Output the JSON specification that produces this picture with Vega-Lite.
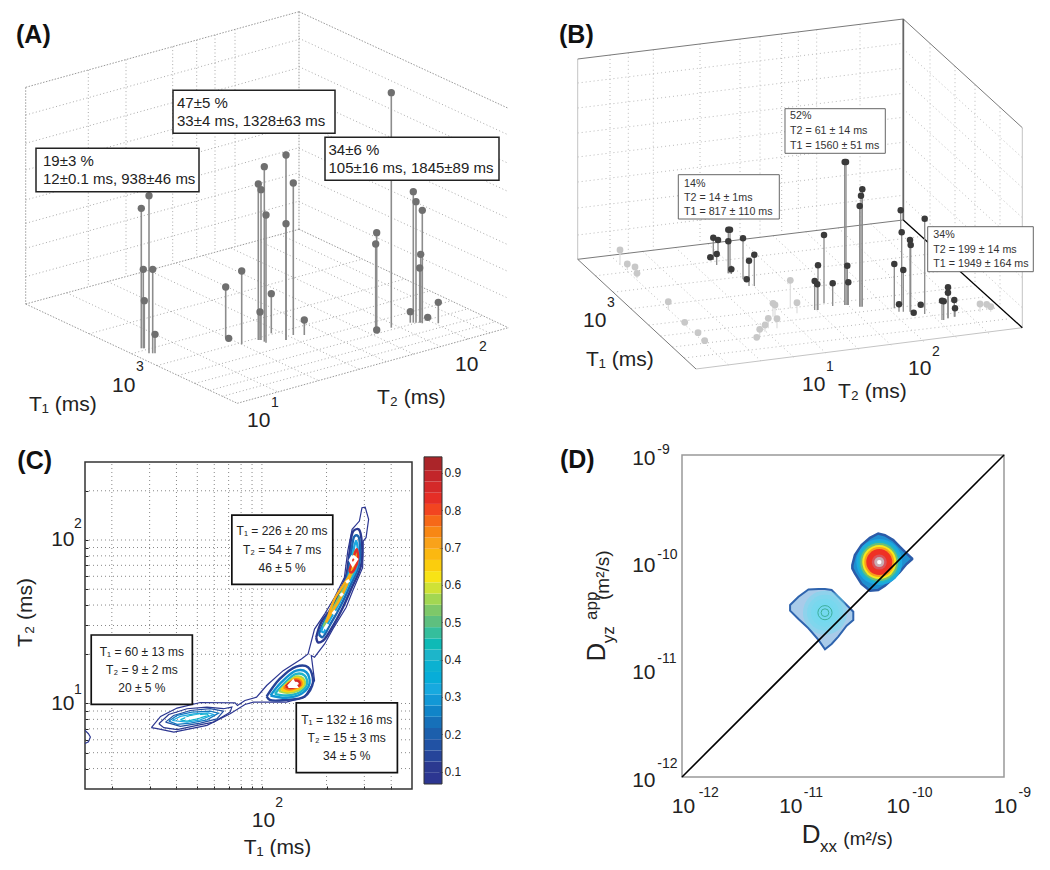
{"$schema":"https://vega.github.io/schema/vega-lite/v6.json","background":"white","padding":0,"bounds":"flush","spacing":0,"columns":7,
"config":{"legend":{"disable":true},"font":"Liberation Sans","axis":{"labelFont":"Liberation Sans","titleFont":"Liberation Sans","titleFontWeight":"normal"}},
"resolve":{"scale":{"color":"independent","size":"independent"}},
"datasets":{
"jetRows":[{"v":0.067,"n":0.097},{"v":0.097,"n":0.127},{"v":0.127,"n":0.157},{"v":0.157,"n":0.187},{"v":0.187,"n":0.217},{"v":0.217,"n":0.247},{"v":0.247,"n":0.277},{"v":0.277,"n":0.307},{"v":0.307,"n":0.337},{"v":0.337,"n":0.367},{"v":0.367,"n":0.397},{"v":0.397,"n":0.427},{"v":0.427,"n":0.457},{"v":0.457,"n":0.487},{"v":0.487,"n":0.517},{"v":0.517,"n":0.547},{"v":0.547,"n":0.577},{"v":0.577,"n":0.607},{"v":0.607,"n":0.637},{"v":0.637,"n":0.667},{"v":0.667,"n":0.697},{"v":0.697,"n":0.727},{"v":0.727,"n":0.757},{"v":0.757,"n":0.787},{"v":0.787,"n":0.817},{"v":0.817,"n":0.847},{"v":0.847,"n":0.877},{"v":0.877,"n":0.907},{"v":0.907,"n":0.943}],
"outline":[
{"r":"O","v":0.067,"x":1.485,"y":0.852},{"r":"O","v":0.067,"x":1.528,"y":0.921},{"r":"O","v":0.067,"x":1.605,"y":0.972},{"r":"O","v":0.067,"x":1.713,"y":1.006},{"r":"O","v":0.067,"x":1.875,"y":1.004},{"r":"O","v":0.067,"x":1.886,"y":0.988},{"r":"O","v":0.067,"x":1.921,"y":1.018},{"r":"O","v":0.067,"x":1.975,"y":1.039},{"r":"O","v":0.067,"x":2.022,"y":1.11},{"r":"O","v":0.067,"x":2.099,"y":1.201},{"r":"O","v":0.067,"x":2.184,"y":1.272},{"r":"O","v":0.067,"x":2.215,"y":1.303},{"r":"O","v":0.067,"x":2.245,"y":1.455},{"r":"O","v":0.067,"x":2.292,"y":1.547},{"r":"O","v":0.067,"x":2.338,"y":1.648},{"r":"O","v":0.067,"x":2.384,"y":1.77},{"r":"O","v":0.067,"x":2.4,"y":1.933},{"r":"O","v":0.067,"x":2.42,"y":2.065},{"r":"O","v":0.067,"x":2.454,"y":2.116},{"r":"O","v":0.067,"x":2.466,"y":2.197},{"r":"O","v":0.067,"x":2.481,"y":2.201},{"r":"O","v":0.067,"x":2.497,"y":2.126},{"r":"O","v":0.067,"x":2.485,"y":2.014},{"r":"O","v":0.067,"x":2.472,"y":1.994},{"r":"O","v":0.067,"x":2.469,"y":1.831},{"r":"O","v":0.067,"x":2.423,"y":1.689},{"r":"O","v":0.067,"x":2.392,"y":1.587},{"r":"O","v":0.067,"x":2.33,"y":1.455},{"r":"O","v":0.067,"x":2.292,"y":1.364},{"r":"O","v":0.067,"x":2.245,"y":1.283},{"r":"O","v":0.067,"x":2.23,"y":1.293},{"r":"O","v":0.067,"x":2.245,"y":1.14},{"r":"O","v":0.067,"x":2.199,"y":1.039},{"r":"O","v":0.067,"x":2.114,"y":1.008},{"r":"O","v":0.067,"x":1.96,"y":1.008},{"r":"O","v":0.067,"x":1.921,"y":0.994},{"r":"O","v":0.067,"x":1.852,"y":0.937},{"r":"O","v":0.067,"x":1.744,"y":0.866},{"r":"O","v":0.067,"x":1.59,"y":0.825},{"r":"O","v":0.067,"x":1.512,"y":0.846},{"r":"O","v":0.067,"x":1.485,"y":0.852},
{"r":"S","v":0.08,"x":1.176,"y":0.836},{"r":"S","v":0.08,"x":1.192,"y":0.815},{"r":"S","v":0.08,"x":1.201,"y":0.795},{"r":"S","v":0.08,"x":1.192,"y":0.765},{"r":"S","v":0.08,"x":1.176,"y":0.755},
{"r":"W1","v":0.09,"x":1.52,"y":0.876},{"r":"W1","v":0.09,"x":1.566,"y":0.933},{"r":"W1","v":0.09,"x":1.651,"y":0.968},{"r":"W1","v":0.09,"x":1.744,"y":0.978},{"r":"W1","v":0.09,"x":1.821,"y":0.968},{"r":"W1","v":0.09,"x":1.86,"y":0.978},{"r":"W1","v":0.09,"x":1.852,"y":0.947},{"r":"W1","v":0.09,"x":1.775,"y":0.886},{"r":"W1","v":0.09,"x":1.698,"y":0.866},{"r":"W1","v":0.09,"x":1.605,"y":0.84},{"r":"W1","v":0.09,"x":1.543,"y":0.852},{"r":"W1","v":0.09,"x":1.52,"y":0.876},
{"r":"W2","v":0.15,"x":1.551,"y":0.886},{"r":"W2","v":0.15,"x":1.589,"y":0.927},{"r":"W2","v":0.15,"x":1.667,"y":0.957},{"r":"W2","v":0.15,"x":1.759,"y":0.968},{"r":"W2","v":0.15,"x":1.821,"y":0.953},{"r":"W2","v":0.15,"x":1.79,"y":0.906},{"r":"W2","v":0.15,"x":1.713,"y":0.88},{"r":"W2","v":0.15,"x":1.62,"y":0.86},{"r":"W2","v":0.15,"x":1.551,"y":0.886},
{"r":"W3","v":0.23,"x":1.566,"y":0.892},{"r":"W3","v":0.23,"x":1.605,"y":0.927},{"r":"W3","v":0.23,"x":1.674,"y":0.947},{"r":"W3","v":0.23,"x":1.759,"y":0.953},{"r":"W3","v":0.23,"x":1.798,"y":0.941},{"r":"W3","v":0.23,"x":1.744,"y":0.9},{"r":"W3","v":0.23,"x":1.667,"y":0.88},{"r":"W3","v":0.23,"x":1.605,"y":0.872},{"r":"W3","v":0.23,"x":1.566,"y":0.892},
{"r":"W4","v":0.3,"x":1.582,"y":0.896},{"r":"W4","v":0.3,"x":1.62,"y":0.921},{"r":"W4","v":0.3,"x":1.682,"y":0.937},{"r":"W4","v":0.3,"x":1.751,"y":0.943},{"r":"W4","v":0.3,"x":1.775,"y":0.933},{"r":"W4","v":0.3,"x":1.713,"y":0.9},{"r":"W4","v":0.3,"x":1.651,"y":0.886},{"r":"W4","v":0.3,"x":1.582,"y":0.896},
{"r":"W5","v":0.38,"x":1.62,"y":0.9},{"r":"W5","v":0.38,"x":1.667,"y":0.927},{"r":"W5","v":0.38,"x":1.744,"y":0.937},{"r":"W5","v":0.38,"x":1.751,"y":0.927},{"r":"W5","v":0.38,"x":1.698,"y":0.906},{"r":"W5","v":0.38,"x":1.651,"y":0.892},{"r":"W5","v":0.38,"x":1.62,"y":0.9}],
"contours":[
{"r":"L1","v":0.12,"x":2.022,"y":1.043},{"r":"L1","v":0.12,"x":2.083,"y":1.15},{"r":"L1","v":0.12,"x":2.16,"y":1.226},{"r":"L1","v":0.12,"x":2.215,"y":1.222},{"r":"L1","v":0.12,"x":2.238,"y":1.13},{"r":"L1","v":0.12,"x":2.199,"y":1.043},{"r":"L1","v":0.12,"x":2.114,"y":1.022},{"r":"L1","v":0.12,"x":2.037,"y":1.022},{"r":"L1","v":0.12,"x":2.022,"y":1.043},
{"r":"L2","v":0.27,"x":2.04,"y":1.049},{"r":"L2","v":0.27,"x":2.091,"y":1.13},{"r":"L2","v":0.27,"x":2.16,"y":1.201},{"r":"L2","v":0.27,"x":2.207,"y":1.191},{"r":"L2","v":0.27,"x":2.222,"y":1.124},{"r":"L2","v":0.27,"x":2.184,"y":1.059},{"r":"L2","v":0.27,"x":2.114,"y":1.035},{"r":"L2","v":0.27,"x":2.04,"y":1.049},
{"r":"L3","v":0.4,"x":2.06,"y":1.059},{"r":"L3","v":0.4,"x":2.099,"y":1.116},{"r":"L3","v":0.4,"x":2.16,"y":1.181},{"r":"L3","v":0.4,"x":2.199,"y":1.171},{"r":"L3","v":0.4,"x":2.21,"y":1.12},{"r":"L3","v":0.4,"x":2.176,"y":1.069},{"r":"L3","v":0.4,"x":2.114,"y":1.049},{"r":"L3","v":0.4,"x":2.06,"y":1.059},
{"r":"L4","v":0.55,"x":2.08,"y":1.075},{"r":"L4","v":0.55,"x":2.114,"y":1.12},{"r":"L4","v":0.55,"x":2.16,"y":1.165},{"r":"L4","v":0.55,"x":2.191,"y":1.154},{"r":"L4","v":0.55,"x":2.199,"y":1.116},{"r":"L4","v":0.55,"x":2.168,"y":1.079},{"r":"L4","v":0.55,"x":2.117,"y":1.065},{"r":"L4","v":0.55,"x":2.08,"y":1.075},
{"r":"L5","v":0.63,"x":2.091,"y":1.084},{"r":"L5","v":0.63,"x":2.122,"y":1.124},{"r":"L5","v":0.63,"x":2.16,"y":1.156},{"r":"L5","v":0.63,"x":2.185,"y":1.148},{"r":"L5","v":0.63,"x":2.191,"y":1.116},{"r":"L5","v":0.63,"x":2.163,"y":1.088},{"r":"L5","v":0.63,"x":2.122,"y":1.075},{"r":"L5","v":0.63,"x":2.091,"y":1.084},
{"r":"L6","v":0.73,"x":2.102,"y":1.096},{"r":"L6","v":0.73,"x":2.126,"y":1.124},{"r":"L6","v":0.73,"x":2.157,"y":1.148},{"r":"L6","v":0.73,"x":2.179,"y":1.14},{"r":"L6","v":0.73,"x":2.184,"y":1.116},{"r":"L6","v":0.73,"x":2.16,"y":1.096},{"r":"L6","v":0.73,"x":2.126,"y":1.086},{"r":"L6","v":0.73,"x":2.102,"y":1.096},
{"r":"L7","v":0.84,"x":2.111,"y":1.104},{"r":"L7","v":0.84,"x":2.133,"y":1.128},{"r":"L7","v":0.84,"x":2.157,"y":1.14},{"r":"L7","v":0.84,"x":2.173,"y":1.134},{"r":"L7","v":0.84,"x":2.176,"y":1.114},{"r":"L7","v":0.84,"x":2.157,"y":1.102},{"r":"L7","v":0.84,"x":2.13,"y":1.094},{"r":"L7","v":0.84,"x":2.111,"y":1.104},
{"r":"U1","v":0.1,"x":2.253,"y":1.405},{"r":"U1","v":0.1,"x":2.276,"y":1.496},{"r":"U1","v":0.1,"x":2.315,"y":1.567},{"r":"U1","v":0.1,"x":2.353,"y":1.659},{"r":"U1","v":0.1,"x":2.392,"y":1.781},{"r":"U1","v":0.1,"x":2.407,"y":1.913},{"r":"U1","v":0.1,"x":2.426,"y":2.055},{"r":"U1","v":0.1,"x":2.451,"y":2.065},{"r":"U1","v":0.1,"x":2.466,"y":1.974},{"r":"U1","v":0.1,"x":2.461,"y":1.841},{"r":"U1","v":0.1,"x":2.415,"y":1.699},{"r":"U1","v":0.1,"x":2.377,"y":1.587},{"r":"U1","v":0.1,"x":2.322,"y":1.455},{"r":"U1","v":0.1,"x":2.284,"y":1.384},{"r":"U1","v":0.1,"x":2.261,"y":1.374},{"r":"U1","v":0.1,"x":2.253,"y":1.405},
{"r":"U2","v":0.2,"x":2.265,"y":1.425},{"r":"U2","v":0.2,"x":2.292,"y":1.506},{"r":"U2","v":0.2,"x":2.326,"y":1.571},{"r":"U2","v":0.2,"x":2.364,"y":1.665},{"r":"U2","v":0.2,"x":2.4,"y":1.791},{"r":"U2","v":0.2,"x":2.415,"y":1.913},{"r":"U2","v":0.2,"x":2.432,"y":2.024},{"r":"U2","v":0.2,"x":2.448,"y":2.024},{"r":"U2","v":0.2,"x":2.457,"y":1.953},{"r":"U2","v":0.2,"x":2.451,"y":1.841},{"r":"U2","v":0.2,"x":2.407,"y":1.709},{"r":"U2","v":0.2,"x":2.367,"y":1.598},{"r":"U2","v":0.2,"x":2.315,"y":1.476},{"r":"U2","v":0.2,"x":2.281,"y":1.405},{"r":"U2","v":0.2,"x":2.265,"y":1.425},
{"r":"U3","v":0.3,"x":2.276,"y":1.445},{"r":"U3","v":0.3,"x":2.302,"y":1.516},{"r":"U3","v":0.3,"x":2.338,"y":1.587},{"r":"U3","v":0.3,"x":2.377,"y":1.679},{"r":"U3","v":0.3,"x":2.407,"y":1.801},{"r":"U3","v":0.3,"x":2.423,"y":1.913},{"r":"U3","v":0.3,"x":2.438,"y":1.994},{"r":"U3","v":0.3,"x":2.446,"y":1.953},{"r":"U3","v":0.3,"x":2.443,"y":1.841},{"r":"U3","v":0.3,"x":2.4,"y":1.72},{"r":"U3","v":0.3,"x":2.358,"y":1.608},{"r":"U3","v":0.3,"x":2.307,"y":1.49},{"r":"U3","v":0.3,"x":2.287,"y":1.435},{"r":"U3","v":0.3,"x":2.276,"y":1.445},
{"r":"U4","v":0.52,"x":2.287,"y":1.47},{"r":"U4","v":0.52,"x":2.315,"y":1.537},{"r":"U4","v":0.52,"x":2.349,"y":1.608},{"r":"U4","v":0.52,"x":2.386,"y":1.699},{"r":"U4","v":0.52,"x":2.414,"y":1.811},{"r":"U4","v":0.52,"x":2.431,"y":1.923},{"r":"U4","v":0.52,"x":2.438,"y":1.933},{"r":"U4","v":0.52,"x":2.435,"y":1.841},{"r":"U4","v":0.52,"x":2.392,"y":1.73},{"r":"U4","v":0.52,"x":2.349,"y":1.624},{"r":"U4","v":0.52,"x":2.302,"y":1.51},{"r":"U4","v":0.52,"x":2.287,"y":1.47},
{"r":"U5","v":0.68,"x":2.299,"y":1.496},{"r":"U5","v":0.68,"x":2.33,"y":1.567},{"r":"U5","v":0.68,"x":2.361,"y":1.632},{"r":"U5","v":0.68,"x":2.395,"y":1.726},{"r":"U5","v":0.68,"x":2.42,"y":1.821},{"r":"U5","v":0.68,"x":2.435,"y":1.913},{"r":"U5","v":0.68,"x":2.441,"y":1.903},{"r":"U5","v":0.68,"x":2.429,"y":1.835},{"r":"U5","v":0.68,"x":2.384,"y":1.734},{"r":"U5","v":0.68,"x":2.338,"y":1.638},{"r":"U5","v":0.68,"x":2.307,"y":1.526},{"r":"U5","v":0.68,"x":2.299,"y":1.496},
{"r":"U6","v":0.82,"x":2.407,"y":1.811},{"r":"U6","v":0.82,"x":2.426,"y":1.892},{"r":"U6","v":0.82,"x":2.441,"y":1.943},{"r":"U6","v":0.82,"x":2.448,"y":1.892},{"r":"U6","v":0.82,"x":2.431,"y":1.821},{"r":"U6","v":0.82,"x":2.415,"y":1.801},{"r":"U6","v":0.82,"x":2.407,"y":1.811}],
"plateaus":[
{"r":"a","x":2.123,"y":1.104},{"r":"a","x":2.145,"y":1.136},{"r":"a","x":2.16,"y":1.104},{"r":"a","x":2.123,"y":1.104},
{"r":"b","x":2.423,"y":1.903},{"r":"b","x":2.441,"y":1.882},{"r":"b","x":2.423,"y":1.848},{"r":"b","x":2.411,"y":1.876},{"r":"b","x":2.423,"y":1.903},
{"r":"c","x":2.392,"y":1.74},{"r":"c","x":2.407,"y":1.754},
{"r":"d","x":2.364,"y":1.659},{"r":"d","x":2.377,"y":1.673},
{"r":"e","x":2.33,"y":1.547},{"r":"e","x":2.342,"y":1.567},
{"r":"f","x":2.292,"y":1.455},{"r":"f","x":2.307,"y":1.486},
{"r":"g","x":1.643,"y":0.906},{"r":"g","x":1.713,"y":0.925}]
},
"concat":[
{"width":85,"height":455,"view":{"stroke":null},
"encoding":{"x":{"field":"x","type":"quantitative","scale":{"domain":[0,85],"nice":false,"zero":false},"axis":null},"y":{"field":"y","type":"quantitative","scale":{"domain":[455,0],"nice":false,"zero":false},"axis":null}},
"layer":[
{"data":{"values":[
{"x":88.3,"y":70,"x2":88.3,"y2":287},{"x":126,"y":59.6,"x2":126,"y2":276.6},{"x":172.7,"y":46.6,"x2":172.7,"y2":263.7},{"x":196.7,"y":40,"x2":196.7,"y2":257},{"x":215,"y":35,"x2":215,"y2":252},{"x":235,"y":29.4,"x2":235,"y2":246.4},
{"x":25.7,"y":115,"x2":299,"y2":39.4},{"x":25.7,"y":143.3,"x2":299,"y2":67.7},{"x":25.7,"y":170,"x2":299,"y2":94.4},{"x":25.7,"y":200,"x2":299,"y2":124.4},{"x":25.7,"y":223.3,"x2":299,"y2":147.7},{"x":25.7,"y":248.3,"x2":299,"y2":172.7},{"x":25.7,"y":276.7,"x2":299,"y2":201.1},
{"x":299,"y":38.3,"x2":508.3,"y2":134.9},{"x":299,"y":66.7,"x2":508.3,"y2":163.3},{"x":299,"y":95,"x2":508.3,"y2":191.6},{"x":299,"y":121.7,"x2":508.3,"y2":218.3},{"x":299,"y":148.3,"x2":508.3,"y2":244.9},{"x":299,"y":175,"x2":508.3,"y2":271.6},{"x":299,"y":201.7,"x2":508.3,"y2":298.3},
{"x":66.7,"y":292.8,"x2":278.3,"y2":392.1},{"x":107.7,"y":281.6,"x2":319.3,"y2":380.9},{"x":148.7,"y":270.4,"x2":360.3,"y2":369.7},{"x":176,"y":262.9,"x2":387.6,"y2":362.2},{"x":203.3,"y":255.4,"x2":414.9,"y2":354.7},{"x":230.7,"y":248,"x2":442.3,"y2":347.3},{"x":258,"y":240.5,"x2":469.6,"y2":339.8},{"x":279.9,"y":234.5,"x2":491.5,"y2":333.8},
{"x":89.2,"y":333.8,"x2":362.5,"y2":259.1},{"x":131.5,"y":353.7,"x2":404.8,"y2":279},{"x":156.9,"y":365.6,"x2":430.2,"y2":290.9},{"x":178.1,"y":375.5,"x2":451.4,"y2":300.8},{"x":195,"y":383.4,"x2":468.3,"y2":308.7},{"x":209.8,"y":390.4,"x2":483.1,"y2":315.7},{"x":222.5,"y":396.3,"x2":495.8,"y2":321.6}]},
"mark":{"type":"rule","color":"#aaaaaa","strokeWidth":1,"strokeDash":[1,2.5]},"encoding":{"x2":{"field":"x2"},"y2":{"field":"y2"}}},
{"data":{"values":[
{"x":25.7,"y":87.3,"x2":25.7,"y2":304},{"x":25.7,"y":87.3,"x2":299,"y2":11.7},{"x":299,"y":11.7,"x2":508.3,"y2":108.3},{"x":299,"y":11.7,"x2":299,"y2":229.3},{"x":25.7,"y":304,"x2":237.3,"y2":403.3},{"x":237.3,"y":403.3,"x2":508.3,"y2":327.7},{"x":25.7,"y":304,"x2":299,"y2":229.3},{"x":299,"y":229.3,"x2":508.3,"y2":327.7}]},
"mark":{"type":"rule","color":"#999999","strokeWidth":1,"strokeDash":[1.5,1.5]},"encoding":{"x2":{"field":"x2"},"y2":{"field":"y2"}}},
{"data":{"name":"ballsA","values":[
{"x":141.3,"y":208.3,"foot":348.3},{"x":149,"y":195.7,"foot":353.3},{"x":143.3,"y":269.3,"foot":348.3},{"x":152.7,"y":269.3,"foot":353.3},{"x":144.3,"y":300.7,"foot":348.3},{"x":155,"y":334.3,"foot":353.3},{"x":225.7,"y":287,"foot":338.3},{"x":228.7,"y":338.3,"foot":338.3},{"x":241.7,"y":271,"foot":344.3},{"x":258.3,"y":184,"foot":340},{"x":261,"y":189.7,"foot":340},{"x":264.3,"y":166.7,"foot":341.7},{"x":266,"y":215,"foot":342.7},{"x":260,"y":312,"foot":340},{"x":271.3,"y":293.7,"foot":333.3},{"x":286,"y":155,"foot":340},{"x":286,"y":223.7,"foot":340},{"x":293.3,"y":183,"foot":335},{"x":304.3,"y":320,"foot":335},{"x":376.7,"y":232.7,"foot":330},{"x":375.7,"y":244,"foot":330},{"x":376.7,"y":330,"foot":330},{"x":391.3,"y":92.7,"foot":327.7},{"x":413.3,"y":191.7,"foot":322.7},{"x":416,"y":201.7,"foot":322.7},{"x":422.3,"y":210.3,"foot":323.3},{"x":420.7,"y":254.3,"foot":322.7},{"x":419.7,"y":268,"foot":322.7},{"x":410.3,"y":311.7,"foot":322.7},{"x":427.7,"y":317.3,"foot":317.3},{"x":438.3,"y":302.3,"foot":323.3}]},
"mark":{"type":"rule","color":"#8c8c8c","strokeWidth":1.6},"encoding":{"y2":{"field":"foot"}}},
{"data":{"name":"ballsA"},"mark":{"type":"circle","color":"#6f6f6f","opacity":1,"size":54}},
{"data":{"values":[{"x":36,"y":148.3,"x2":199,"y2":191.7},{"x":173,"y":90.3,"x2":335,"y2":133.3},{"x":325,"y":137.3,"x2":499,"y2":180.3}]},
"mark":{"type":"rect","fill":"white","stroke":"#222222","strokeWidth":1.5},"encoding":{"x2":{"field":"x2"},"y2":{"field":"y2"}}},
{"data":{"values":[{"x":43,"y":166,"label":"19±3 %"},{"x":43,"y":184,"label":"12±0.1 ms, 938±46 ms"},{"x":177,"y":107.5,"label":"47±5 %"},{"x":177,"y":126,"label":"33±4 ms, 1328±63 ms"},{"x":328.5,"y":154.5,"label":"34±6 %"},{"x":328.5,"y":173,"label":"105±16 ms, 1845±89 ms"}]},
"mark":{"type":"text","align":"left","baseline":"alphabetic","font":"Liberation Sans","fontSize":15,"color":"#222222"},"encoding":{"text":{"field":"label"}}},
{"data":{"values":[{"x":29,"y":411,"label":"T₁ (ms)"},{"x":112,"y":392,"label":"10"},{"x":247,"y":427,"label":"10"},{"x":455,"y":371,"label":"10"},{"x":377,"y":404,"label":"T₂ (ms)"}]},
"mark":{"type":"text","align":"left","baseline":"alphabetic","font":"Liberation Sans","fontSize":21,"color":"#222222"},"encoding":{"text":{"field":"label"}}},
{"data":{"values":[{"x":136,"y":371,"label":"3"},{"x":271,"y":407,"label":"1"},{"x":479,"y":351,"label":"2"}]},
"mark":{"type":"text","align":"left","baseline":"alphabetic","font":"Liberation Sans","fontSize":14,"color":"#222222"},"encoding":{"text":{"field":"label"}}},
{"data":{"values":[{"x":16,"y":43,"label":"(A)"}]},
"mark":{"type":"text","align":"left","baseline":"alphabetic","font":"Liberation Sans","fontSize":25,"fontWeight":"bold","color":"#111111"},"encoding":{"text":{"field":"label"}}}
]},
{"width":327,"height":455,"view":{"stroke":null},"data":{"values":[]},"mark":"point","encoding":{}},
{"width":12,"height":455,"view":{"stroke":null},"data":{"values":[]},"mark":"point","encoding":{}},
{"width":18,"height":455,"view":{"stroke":null},"data":{"values":[]},"mark":"point","encoding":{}},
{"width":98,"height":455,"view":{"stroke":null},"data":{"values":[]},"mark":"point","encoding":{}},
{"width":142,"height":455,"view":{"stroke":null},
"encoding":{"x":{"field":"x","type":"quantitative","scale":{"domain":[540,682],"nice":false,"zero":false},"axis":null},"y":{"field":"y","type":"quantitative","scale":{"domain":[455,0],"nice":false,"zero":false},"axis":null}},
"layer":[
{"data":{"values":[
{"x":610,"y":55,"x2":610,"y2":255.4},{"x":628.3,"y":52.8,"x2":628.3,"y2":253.2},{"x":653.3,"y":49.7,"x2":653.3,"y2":250},{"x":700,"y":44,"x2":700,"y2":244.5},{"x":740,"y":39.1,"x2":740,"y2":239.6},{"x":760,"y":36.6,"x2":760,"y2":237.1},{"x":781.7,"y":34,"x2":781.7,"y2":234.5},{"x":798.3,"y":31.9,"x2":798.3,"y2":232.4},{"x":816.7,"y":29.6,"x2":816.7,"y2":230.1},{"x":860,"y":24.3,"x2":860,"y2":224.8},
{"x":577.7,"y":83,"x2":903.3,"y2":43.3},{"x":577.7,"y":108,"x2":903.3,"y2":68.3},{"x":577.7,"y":133,"x2":903.3,"y2":93.3},{"x":577.7,"y":157,"x2":903.3,"y2":117.3},{"x":577.7,"y":182,"x2":903.3,"y2":142.3},{"x":577.7,"y":208,"x2":903.3,"y2":168.3},{"x":577.7,"y":235,"x2":903.3,"y2":195.3},
{"x":903.3,"y":49,"x2":1022.3,"y2":157.7},{"x":903.3,"y":79,"x2":1022.3,"y2":187.7},{"x":903.3,"y":109,"x2":1022.3,"y2":217.7},{"x":903.3,"y":139,"x2":1022.3,"y2":247.7},{"x":903.3,"y":169,"x2":1022.3,"y2":277.7},{"x":903.3,"y":199,"x2":1022.3,"y2":307.7},
{"x":930,"y":43.4,"x2":930,"y2":244.3},{"x":955,"y":66.2,"x2":955,"y2":267.1},{"x":975,"y":84.8,"x2":975,"y2":285.7},{"x":1000,"y":107.3,"x2":1000,"y2":308.2},
{"x":610.3,"y":255.4,"x2":728.6,"y2":365.1},{"x":642.8,"y":251.4,"x2":761.1,"y2":361.1},{"x":675.4,"y":247.5,"x2":793.7,"y2":357.2},{"x":707.9,"y":243.6,"x2":826.2,"y2":353.3},{"x":740.5,"y":239.6,"x2":858.8,"y2":349.3},{"x":773.1,"y":235.7,"x2":891.4,"y2":345.4},{"x":805.6,"y":231.8,"x2":923.9,"y2":341.5},{"x":838.2,"y":227.9,"x2":956.5,"y2":337.6},{"x":870.7,"y":223.9,"x2":989,"y2":333.6},
{"x":595.4,"y":275.8,"x2":921,"y2":236.5},{"x":613.2,"y":292.2,"x2":938.8,"y2":252.9},{"x":630.9,"y":308.7,"x2":956.5,"y2":269.4},{"x":648.7,"y":325.1,"x2":974.3,"y2":285.8},{"x":660.5,"y":336.1,"x2":986.1,"y2":296.8},{"x":672.3,"y":347.1,"x2":997.9,"y2":307.8},{"x":684.2,"y":358,"x2":1009.8,"y2":318.7}]},
"mark":{"type":"rule","color":"#bbbbbb","strokeWidth":1,"strokeDash":[1,3]},"encoding":{"x2":{"field":"x2"},"y2":{"field":"y2"}}},
{"data":{"values":[{"x":577.7,"y":59,"x2":577.7,"y2":259.3},{"x":1022.3,"y":127.7,"x2":1022.3,"y2":327.7},{"x":696,"y":369,"x2":1022.3,"y2":327.7}]},"mark":{"type":"rule","color":"#c4c4c4","strokeWidth":1},"encoding":{"x2":{"field":"x2"},"y2":{"field":"y2"}}},
{"data":{"values":[{"x":577.7,"y":59,"x2":903.3,"y2":19},{"x":903.3,"y":19,"x2":1022.3,"y2":127.7},{"x":577.7,"y":259.3,"x2":903.3,"y2":220},{"x":577.7,"y":259.3,"x2":696,"y2":369}]},"mark":{"type":"rule","color":"#7a7a7a","strokeWidth":1},"encoding":{"x2":{"field":"x2"},"y2":{"field":"y2"}}},
{"data":{"values":[{"x":903.3,"y":19,"x2":903.3,"y2":220}]},"mark":{"type":"rule","color":"#666666","strokeWidth":1.8},"encoding":{"x2":{"field":"x2"},"y2":{"field":"y2"}}},
{"data":{"values":[{"x":903.3,"y":220,"x2":1022.3,"y2":327.7}]},"mark":{"type":"rule","color":"#000000","strokeWidth":1.3},"encoding":{"x2":{"field":"x2"},"y2":{"field":"y2"}}},
{"data":{"name":"lightB","values":[
{"x":620,"y":250,"foot":265},{"x":627.3,"y":264,"foot":270},{"x":635,"y":267,"foot":267},{"x":637,"y":273.3,"foot":278.3},{"x":668.3,"y":301.7,"foot":310},{"x":684.7,"y":322.3,"foot":322.3},{"x":698,"y":332.7,"foot":332.7},{"x":704.7,"y":340.7,"foot":340.7},{"x":756.7,"y":337.3,"foot":337.3},{"x":759.7,"y":329.3,"foot":336.7},{"x":765,"y":325,"foot":331.7},{"x":768.3,"y":318.3,"foot":328.3},{"x":777,"y":318.7,"foot":328.3},{"x":773,"y":303.3,"foot":316.7},{"x":775,"y":305,"foot":316.7},{"x":790.3,"y":280.3,"foot":308.3},{"x":797,"y":302.7,"foot":313.3},{"x":980,"y":304,"foot":311.7},{"x":986.7,"y":304.3,"foot":310},{"x":990.7,"y":306.7,"foot":311.7}]},
"mark":{"type":"rule","color":"#dddddd","strokeWidth":1.2},"encoding":{"y2":{"field":"foot"}}},
{"data":{"name":"lightB"},"mark":{"type":"circle","color":"#c8c8c8","opacity":1,"size":46}},
{"data":{"name":"darkB","values":[
{"x":713.3,"y":237.7,"foot":260},{"x":718,"y":240,"foot":253.3},{"x":710.3,"y":257.3,"foot":257.3},{"x":716.7,"y":254,"foot":265},{"x":728.3,"y":229.7,"foot":273.3},{"x":730,"y":229.7,"foot":273.3},{"x":728.3,"y":241.3,"foot":273.3},{"x":731.3,"y":269.3,"foot":274},{"x":743,"y":238.3,"foot":279.3},{"x":749,"y":260.7,"foot":286},{"x":754.3,"y":254.7,"foot":286},{"x":746.7,"y":279.3,"foot":279.3},{"x":824,"y":235,"foot":303.3},{"x":818,"y":265.3,"foot":310},{"x":814.7,"y":281,"foot":310},{"x":817.3,"y":284.3,"foot":310},{"x":832.7,"y":283.3,"foot":306},{"x":844.7,"y":162,"foot":305},{"x":846,"y":162,"foot":305},{"x":847.3,"y":265.7,"foot":305},{"x":848.3,"y":282.3,"foot":305},{"x":862.3,"y":189.3,"foot":306.7},{"x":861,"y":195.7,"foot":306.7},{"x":859.7,"y":206,"foot":306.7},{"x":900.7,"y":210.3,"foot":233.3},{"x":901.7,"y":232.3,"foot":305},{"x":894.3,"y":264,"foot":308.3},{"x":903.3,"y":270,"foot":311.7},{"x":899,"y":304.3,"foot":311.7},{"x":910,"y":240,"foot":311.7},{"x":910.7,"y":245,"foot":311.7},{"x":913.7,"y":312.7,"foot":312.7},{"x":924.7,"y":218.7,"foot":314},{"x":920.7,"y":304.7,"foot":304.7},{"x":942,"y":300.7,"foot":320},{"x":943.7,"y":301.3,"foot":320},{"x":948,"y":287.3,"foot":318.3},{"x":948,"y":292.7,"foot":318.3},{"x":954.3,"y":300,"foot":316.7},{"x":955,"y":308.3,"foot":316.7}]},
"mark":{"type":"rule","color":"#8a8a8a","strokeWidth":1.3},"encoding":{"y2":{"field":"foot"}}},
{"data":{"name":"darkB"},"mark":{"type":"circle","color":"#3a3a3a","opacity":1,"size":42}},
{"data":{"values":[{"x":678.3,"y":174.7,"x2":779.3,"y2":219},{"x":785,"y":108.7,"x2":885.3,"y2":153.3},{"x":927.7,"y":226.7,"x2":1033.3,"y2":271.7}]},
"mark":{"type":"rect","fill":"white","stroke":"#666666","strokeWidth":1},"encoding":{"x2":{"field":"x2"},"y2":{"field":"y2"}}},
{"data":{"values":[{"x":684,"y":186.7,"label":"14%"},{"x":684,"y":200.7,"label":"T2 = 14 ± 1ms"},{"x":684,"y":215,"label":"T1 = 817 ± 110 ms"},{"x":790,"y":119.3,"label":"52%"},{"x":790,"y":134,"label":"T2 = 61 ± 14 ms"},{"x":790,"y":148.7,"label":"T1 = 1560 ± 51 ms"},{"x":933.3,"y":238.3,"label":"34%"},{"x":933.3,"y":252.7,"label":"T2 = 199 ± 14 ms"},{"x":933.3,"y":267.3,"label":"T1 = 1949 ± 164 ms"}]},
"mark":{"type":"text","align":"left","baseline":"alphabetic","font":"Liberation Sans","fontSize":10.7,"color":"#333333"},"encoding":{"text":{"field":"label"}}},
{"data":{"values":[{"x":583,"y":327,"label":"10"},{"x":586,"y":366,"label":"T₁ (ms)"},{"x":802,"y":391,"label":"10"},{"x":838,"y":398,"label":"T₂ (ms)"},{"x":908,"y":375,"label":"10"}]},
"mark":{"type":"text","align":"left","baseline":"alphabetic","font":"Liberation Sans","fontSize":21,"color":"#222222"},"encoding":{"text":{"field":"label"}}},
{"data":{"values":[{"x":607,"y":307,"label":"3"},{"x":826,"y":371,"label":"1"},{"x":932,"y":356,"label":"2"}]},
"mark":{"type":"text","align":"left","baseline":"alphabetic","font":"Liberation Sans","fontSize":14,"color":"#222222"},"encoding":{"text":{"field":"label"}}},
{"data":{"values":[{"x":559,"y":43,"label":"(B)"}]},
"mark":{"type":"text","align":"left","baseline":"alphabetic","font":"Liberation Sans","fontSize":25,"fontWeight":"bold","color":"#111111"},"encoding":{"text":{"field":"label"}}}
]},
{"width":322,"height":455,"view":{"stroke":null},"data":{"values":[]},"mark":"point","encoding":{}},
{"width":85,"height":7,"view":{"stroke":null},"data":{"values":[]},"mark":"point","encoding":{}},
{"width":327,"height":334,"view":{"stroke":null},
"encoding":{
"x":{"field":"x","type":"quantitative","scale":{"domain":[1.176,2.699],"nice":false,"zero":false},"axis":{"title":"T₁ (ms)","titleFontSize":21,"titleColor":"#222222","titleX":192,"titleY":64,"titleBaseline":"alphabetic","values":[1.301,1.477,1.602,1.699,1.778,1.845,1.903,1.954,2,2.301,2.477,2.602],"labelExpr":"datum.value==2?'10':''","labelFontSize":21,"labelColor":"#222222","labelAlign":"center","labelOffset":1,"labelPadding":23,"labelOverlap":false,"labelFlush":false,"labelBound":false,"grid":false,"domain":false,"tickColor":"#222222","tickSize":-3}},
"y":{"field":"y","type":"quantitative","scale":{"domain":[0.477,2.5198],"nice":false,"zero":false},"axis":{"title":"T₂ (ms)","titleFontSize":21,"titleColor":"#222222","titleX":-50,"titleY":157,"values":[0.602,0.699,0.778,0.845,0.903,0.954,1,1.301,1.477,1.602,1.699,1.778,1.845,1.903,1.954,2,2.301],"labelExpr":"datum.value==2?'10':datum.value==1?'10':''","labelFontSize":21,"labelColor":"#222222","labelPadding":14,"labelOverlap":false,"labelFlush":false,"labelBound":false,"grid":false,"domain":false,"tickColor":"#222222","tickSize":-3}}},
"layer":[
{"data":{"values":[{"x":1.301,"y":0.477,"y2":2.477},{"x":1.477,"y":0.477,"y2":2.477},{"x":1.602,"y":0.477,"y2":2.477},{"x":1.699,"y":0.477,"y2":2.477},{"x":1.778,"y":0.477,"y2":2.477},{"x":1.845,"y":0.477,"y2":2.477},{"x":1.903,"y":0.477,"y2":2.477},{"x":1.954,"y":0.477,"y2":2.477},{"x":2,"y":0.477,"y2":2.477},{"x":2.301,"y":0.477,"y2":2.477},{"x":2.477,"y":0.477,"y2":2.477},{"x":2.602,"y":0.477,"y2":2.477}]},
"mark":{"type":"rule","color":"#888888","strokeWidth":1,"strokeDash":[1,3]},"encoding":{"y2":{"field":"y2"}}},
{"data":{"values":[{"y":0.602,"x":1.176,"x2":2.699},{"y":0.699,"x":1.176,"x2":2.699},{"y":0.778,"x":1.176,"x2":2.699},{"y":0.845,"x":1.176,"x2":2.699},{"y":0.903,"x":1.176,"x2":2.699},{"y":0.954,"x":1.176,"x2":2.699},{"y":1,"x":1.176,"x2":2.699},{"y":1.301,"x":1.176,"x2":2.699},{"y":1.477,"x":1.176,"x2":2.699},{"y":1.602,"x":1.176,"x2":2.699},{"y":1.699,"x":1.176,"x2":2.699},{"y":1.778,"x":1.176,"x2":2.699},{"y":1.845,"x":1.176,"x2":2.699},{"y":1.903,"x":1.176,"x2":2.699},{"y":1.954,"x":1.176,"x2":2.699},{"y":2,"x":1.176,"x2":2.699},{"y":2.301,"x":1.176,"x2":2.699}]},
"mark":{"type":"rule","color":"#888888","strokeWidth":1,"strokeDash":[1,3]},"encoding":{"x2":{"field":"x2"}}},
{"data":{"values":[{"x":1.176,"x2":2.699,"y":0.477,"y2":2.477}]},"mark":{"type":"rect","fillOpacity":0,"stroke":"#333333","strokeWidth":1.5},"encoding":{"x2":{"field":"x2"},"y2":{"field":"y2"}}},
{"data":{"name":"outline"},"mark":{"type":"line","strokeWidth":1.2},"encoding":{"detail":{"field":"r"},"order":{"value":null},"color":{"field":"v","type":"quantitative","scale":{"type":"linear","domain":[0.067,0.1,0.2,0.3,0.4,0.5,0.6,0.7,0.8,0.9,0.943],"range":["#2c3691","#2b3990","#1b65b0","#1ca8e0","#1fb5c9","#6fbf73","#f7e81a","#f9a01b","#ef3124","#b5232b","#7b2a22"]}}}},
{"data":{"name":"contours"},"mark":{"type":"line","strokeWidth":2.4,"interpolate":"catmull-rom"},"encoding":{"detail":{"field":"r"},"order":{"value":null},"color":{"field":"v","type":"quantitative"}}},
{"data":{"name":"plateaus"},"mark":{"type":"line","strokeWidth":3,"color":"white"},"encoding":{"detail":{"field":"r"},"order":{"value":null}}},
{"data":{"values":[{"x":1.86,"x2":2.33,"y":2.152,"y2":1.728},{"x":1.205,"x2":1.676,"y":1.419,"y2":0.994},{"x":2.16,"x2":2.631,"y":1.004,"y2":0.577}]},
"mark":{"type":"rect","fill":"white","stroke":"#111111","strokeWidth":1.7},"encoding":{"x2":{"field":"x2"},"y2":{"field":"y2"}}},
{"data":{"values":[{"x":2.094,"y":2.029,"label":"T₁ = 226 ± 20 ms"},{"x":2.094,"y":1.917,"label":"T₂ = 54 ± 7 ms"},{"x":2.094,"y":1.805,"label":"46 ± 5 %"},{"x":1.441,"y":1.293,"label":"T₁ = 60 ± 13 ms"},{"x":1.441,"y":1.181,"label":"T₂ = 9 ± 2 ms"},{"x":1.441,"y":1.069,"label":"20 ± 5 %"},{"x":2.395,"y":0.876,"label":"T₁ = 132 ± 16 ms"},{"x":2.395,"y":0.764,"label":"T₂ = 15 ± 3 ms"},{"x":2.395,"y":0.652,"label":"34 ± 5 %"}]},
"mark":{"type":"text","align":"center","baseline":"alphabetic","font":"Liberation Sans","fontSize":12,"color":"#222222"},"encoding":{"text":{"field":"label"}}},
{"data":{"values":[{"x":2.062,"y":0.367,"label":"2"},{"x":1.125,"y":2.072,"label":"2"},{"x":1.125,"y":1.058,"label":"1"}]},
"mark":{"type":"text","align":"left","baseline":"alphabetic","font":"Liberation Sans","fontSize":14,"color":"#222222"},"encoding":{"text":{"field":"label"}}},
{"data":{"values":[{"x":0.861,"y":2.433,"label":"(C)"}]},
"mark":{"type":"text","align":"left","baseline":"alphabetic","font":"Liberation Sans","fontSize":25,"fontWeight":"bold","color":"#111111"},"encoding":{"text":{"field":"label"}}}
]},
{"width":12,"height":7,"view":{"stroke":null},"data":{"values":[]},"mark":"point","encoding":{}},
{"width":18,"height":329,"view":{"stroke":null},
"encoding":{
"x":{"datum":0,"type":"quantitative","scale":{"domain":[0,1],"nice":false,"zero":false},"axis":null},
"x2":{"datum":1},
"y":{"field":"v","type":"quantitative","scale":{"domain":[0.067,0.948],"nice":false,"zero":false},"axis":{"orient":"right","title":null,"values":[0.1,0.2,0.3,0.4,0.5,0.6,0.7,0.8,0.9],"format":".1f","labelFontSize":12,"labelColor":"#222222","labelPadding":5,"domain":false,"tickColor":"#222222","tickSize":-3,"grid":false}},
"y2":{"field":"n"}},
"layer":[
{"data":{"name":"jetRows"},"mark":{"type":"rect"},"encoding":{"color":{"field":"v","type":"quantitative","scale":{"type":"linear","domain":[0.067,0.1,0.2,0.3,0.4,0.5,0.6,0.7,0.8,0.9,0.943],"range":["#2c3691","#2b3990","#1b65b0","#1ca8e0","#1fb5c9","#6fbf73","#f7e81a","#f9a01b","#ef3124","#b5232b","#7b2a22"]}}}},
{"data":{"values":[{"v":0.067,"n":0.943}]},"mark":{"type":"rect","fillOpacity":0,"stroke":"#333333","strokeWidth":1}}
]},
{"width":98,"height":7,"view":{"stroke":null},"data":{"values":[]},"mark":"point","encoding":{}},
{"width":142,"height":7,"view":{"stroke":null},"data":{"values":[]},"mark":"point","encoding":{}},
{"width":322,"height":322,"view":{"stroke":"#999999","strokeWidth":1.5},
"encoding":{
"x":{"field":"x","type":"quantitative","scale":{"domain":[-12,-9],"nice":false,"zero":false},"axis":{"title":null,"values":[-12,-11,-10,-9],"labelExpr":"'10'","labelFontSize":21,"labelColor":"#222222","labelAlign":"center","labelOffset":1,"labelPadding":18,"labelFlush":false,"labelBound":false,"labelOverlap":false,"domain":false,"ticks":false,"grid":false}},
"y":{"field":"y","type":"quantitative","scale":{"domain":[-12,-9],"nice":false,"zero":false},"axis":{"title":null,"values":[-12,-11,-10,-9],"labelExpr":"'10'","labelFontSize":21,"labelColor":"#222222","labelOffset":3,"labelPadding":27,"labelFlush":false,"labelBound":false,"labelOverlap":false,"domain":false,"ticks":false,"grid":false}}},
"resolve":{"scale":{"size":"independent"}},
"layer":[
{"data":{"values":[{"x":-10.993,"y":-10.398,"lo":-10.45},{"x":-10.915,"y":-10.32,"lo":-10.528},{"x":-10.822,"y":-10.252,"lo":-10.614},{"x":-10.729,"y":-10.249,"lo":-10.723},{"x":-10.668,"y":-10.249,"lo":-10.81},{"x":-10.606,"y":-10.258,"lo":-10.76},{"x":-10.544,"y":-10.32,"lo":-10.692},{"x":-10.466,"y":-10.398,"lo":-10.59},{"x":-10.404,"y":-10.46,"lo":-10.537}]},
"mark":{"type":"area","fill":"#a9cbe9","stroke":"#2f64ae","strokeWidth":2},"encoding":{"y2":{"field":"lo"}}},
{"data":{"values":[{"x":-10.668,"y":-10.469,"level":0.3},{"x":-10.668,"y":-10.469,"level":0.32},{"x":-10.668,"y":-10.469,"level":0.34},{"x":-10.668,"y":-10.469,"level":0.36}]},
"mark":{"type":"circle","color":"#6fdcf0","opacity":0.45},"encoding":{"size":{"field":"level","type":"quantitative","scale":{"domain":[0.3,0.32,0.34,0.36],"range":[1936,1296,784,400],"zero":false}}}},
{"data":{"values":[{"x":-10.668,"y":-10.469,"level":0.38},{"x":-10.668,"y":-10.469,"level":0.4}]},
"mark":{"type":"circle","filled":false,"color":"#3cae9a","opacity":1,"strokeWidth":1},"encoding":{"size":{"field":"level","type":"quantitative","scale":{"domain":[0.38,0.4],"range":[200,60],"zero":false}}}},
{"data":{"values":[{"x":-10.413,"y":-10.026,"lo":-10.057},{"x":-10.389,"y":-9.933,"lo":-10.103},{"x":-10.327,"y":-9.84,"lo":-10.202},{"x":-10.249,"y":-9.772,"lo":-10.264},{"x":-10.172,"y":-9.731,"lo":-10.258},{"x":-10.11,"y":-9.747,"lo":-10.218},{"x":-10.032,"y":-9.793,"lo":-10.15},{"x":-9.97,"y":-9.855,"lo":-10.088},{"x":-9.908,"y":-9.917,"lo":-10.016},{"x":-9.856,"y":-9.964,"lo":-9.97}]},
"mark":{"type":"area","fill":"#1f8fd0","stroke":"#2b5ba8","strokeWidth":2.5},"encoding":{"y2":{"field":"lo"}}},
{"data":{"values":[{"x":-10.162,"y":-9.998,"level":0.3},{"x":-10.162,"y":-9.998,"level":0.4},{"x":-10.162,"y":-9.998,"level":0.5},{"x":-10.162,"y":-9.998,"level":0.6},{"x":-10.162,"y":-9.998,"level":0.7},{"x":-10.162,"y":-9.998,"level":0.8},{"x":-10.162,"y":-9.998,"level":0.9}]},
"mark":{"type":"circle","opacity":1},"encoding":{"size":{"field":"level","type":"quantitative","scale":{"domain":[0.3,0.4,0.5,0.6,0.7,0.8,0.9],"range":[2116,1764,1444,1156,900,676,225],"zero":false}},"color":{"field":"level","type":"quantitative","scale":{"type":"linear","domain":[0.067,0.1,0.2,0.3,0.4,0.5,0.6,0.7,0.8,0.9,0.943],"range":["#2c3691","#2b3990","#1b65b0","#1ca8e0","#1fb5c9","#6fbf73","#f7e81a","#f9a01b","#ef3124","#d9535a","#7b2a22"]}}}},
{"data":{"values":[{"x":-10.162,"y":-9.998}]},"mark":{"type":"circle","color":"#c9aeb4","opacity":1,"size":100},"encoding":{}},
{"data":{"values":[{"x":-10.162,"y":-9.998}]},"mark":{"type":"circle","color":"white","opacity":1,"size":20},"encoding":{}},
{"data":{"values":[{"x":-12,"y":-12,"x2":-9,"y2":-9}]},"mark":{"type":"rule","color":"#000000","strokeWidth":1.6},"encoding":{"x2":{"field":"x2"},"y2":{"field":"y2"}}},
{"data":{"values":[{"x":-12.23,"y":-8.991,"label":"-9"},{"x":-12.23,"y":-9.972,"label":"-10"},{"x":-12.23,"y":-10.938,"label":"-11"},{"x":-12.23,"y":-11.919,"label":"-12"},{"x":-11.845,"y":-12.189,"label":"-12"},{"x":-10.865,"y":-12.189,"label":"-11"},{"x":-9.855,"y":-12.189,"label":"-10"},{"x":-8.865,"y":-12.189,"label":"-9"}]},"mark":{"type":"text","align":"left","baseline":"alphabetic","font":"Liberation Sans","fontSize":14,"color":"#222222"},"encoding":{"text":{"field":"label"}}},
{"data":{"values":[{"x":-10.884,"y":-12.613,"label":"D"}]},"mark":{"type":"text","align":"left","baseline":"alphabetic","font":"Liberation Sans","fontSize":26,"color":"#222222"},"encoding":{"text":{"field":"label"}}},
{"data":{"values":[{"x":-10.714,"y":-12.697,"label":"xx"}]},"mark":{"type":"text","align":"left","baseline":"alphabetic","font":"Liberation Sans","fontSize":17,"color":"#222222"},"encoding":{"text":{"field":"label"}}},
{"data":{"values":[{"x":-10.497,"y":-12.629,"label":"(m²/s)"}]},"mark":{"type":"text","align":"left","baseline":"alphabetic","font":"Liberation Sans","fontSize":19,"color":"#222222"},"encoding":{"text":{"field":"label"}}},
{"data":{"values":[{"x":-12.722,"y":-10.924,"label":"D"}]},"mark":{"type":"text","angle":270,"align":"left","baseline":"alphabetic","font":"Liberation Sans","fontSize":26,"color":"#222222"},"encoding":{"text":{"field":"label"}}},
{"data":{"values":[{"x":-12.635,"y":-10.754,"label":"yz"},{"x":-12.79,"y":-10.537,"label":"app"}]},"mark":{"type":"text","angle":270,"align":"left","baseline":"alphabetic","font":"Liberation Sans","fontSize":17,"color":"#222222"},"encoding":{"text":{"field":"label"}}},
{"data":{"values":[{"x":-12.682,"y":-10.351,"label":"(m²/s)"}]},"mark":{"type":"text","angle":270,"align":"left","baseline":"alphabetic","font":"Liberation Sans","fontSize":19,"color":"#222222"},"encoding":{"text":{"field":"label"}}},
{"data":{"values":[{"x":-13.137,"y":-9.121,"label":"(D)"}]},"mark":{"type":"text","align":"left","baseline":"alphabetic","font":"Liberation Sans","fontSize":25,"fontWeight":"bold","color":"#111111"},"encoding":{"text":{"field":"label"}}}
]}
]}
